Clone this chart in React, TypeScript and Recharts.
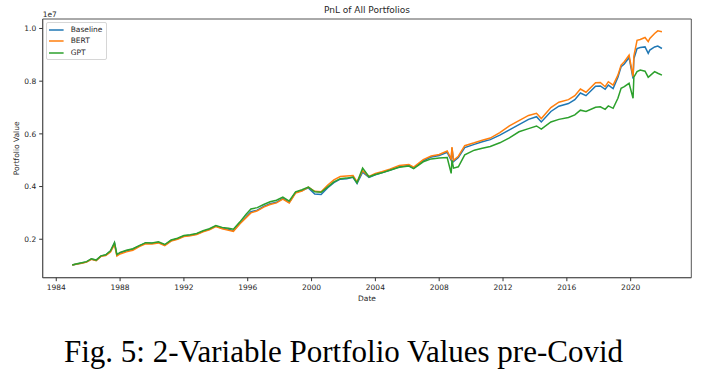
import React from 'react';
import { LineChart, Line, XAxis, YAxis, Legend, ReferenceArea } from 'recharts';

// Portfolio values in millions of dollars (axis shows units of 1e7)
const years = [
  1985.0, 1985.3, 1985.6, 1985.9, 1986.2, 1986.5, 1986.8, 1987.1, 1987.4, 1987.65, 1987.8,
  1988.0, 1988.4, 1988.8, 1989.2, 1989.6, 1990.0, 1990.4, 1990.8, 1991.2, 1991.6,
  1992.0, 1992.4, 1992.8, 1993.2, 1993.6, 1994.0, 1994.4, 1994.8, 1995.1, 1995.5, 1995.9,
  1996.2, 1996.6, 1997.0, 1997.4, 1997.8, 1998.2, 1998.6, 1999.0, 1999.4, 1999.8,
  2000.2, 2000.6, 2001.0, 2001.4, 2001.8, 2002.2, 2002.6, 2002.85, 2003.2, 2003.6,
  2004.0, 2004.4, 2004.9, 2005.5, 2006.1, 2006.4, 2007.0, 2007.5, 2008.0, 2008.5,
  2008.75, 2008.8, 2008.9, 2009.2, 2009.6, 2010.2, 2010.7, 2011.2, 2011.8, 2012.4,
  2013.0, 2013.6, 2014.1, 2014.4, 2015.0, 2015.5, 2016.1, 2016.5, 2016.85, 2017.2,
  2017.8, 2018.1, 2018.4, 2018.6, 2018.9, 2019.2, 2019.4, 2019.6, 2019.9, 2020.15,
  2020.2, 2020.4, 2020.6, 2020.9, 2021.1, 2021.2, 2021.5, 2021.7, 2021.96,
];

const baseline = [
  1.02, 1.06, 1.10, 1.14, 1.25, 1.20, 1.36, 1.40, 1.55, 1.86, 1.40,
  1.48, 1.56, 1.62, 1.75, 1.86, 1.85, 1.88, 1.78, 1.95, 2.02,
  2.12, 2.15, 2.20, 2.30, 2.38, 2.50, 2.42, 2.38, 2.32, 2.60, 2.85,
  3.05, 3.10, 3.25, 3.35, 3.40, 3.55, 3.40, 3.78, 3.85, 3.95,
  3.72, 3.70, 3.95, 4.15, 4.28, 4.30, 4.35, 4.12, 4.55, 4.35,
  4.45, 4.52, 4.62, 4.75, 4.80, 4.70, 4.98, 5.12, 5.18, 5.30,
  5.00, 5.45, 4.95, 5.10, 5.48, 5.60, 5.70, 5.78, 5.95, 6.15,
  6.35, 6.55, 6.65, 6.45, 6.85, 7.05, 7.15, 7.30, 7.55, 7.45,
  7.81, 7.82, 7.69, 7.85, 7.72, 8.15, 8.55, 8.65, 8.90, 8.10,
  8.85, 9.24, 9.28, 9.30, 9.06, 9.18, 9.30, 9.33, 9.24,
];

const bert = [
  1.02, 1.06, 1.09, 1.13, 1.24, 1.19, 1.35, 1.38, 1.52, 1.80, 1.36,
  1.44, 1.52, 1.58, 1.72, 1.83, 1.82, 1.86, 1.76, 1.93, 2.00,
  2.10, 2.13, 2.18, 2.28, 2.36, 2.48, 2.40, 2.34, 2.30, 2.58, 2.82,
  3.00, 3.08, 3.22, 3.32, 3.38, 3.52, 3.38, 3.75, 3.83, 3.98,
  3.82, 3.80, 4.05, 4.25, 4.38, 4.40, 4.42, 4.18, 4.60, 4.38,
  4.50, 4.56, 4.66, 4.80, 4.84, 4.74, 5.02, 5.16, 5.22, 5.35,
  5.05, 5.50, 5.00, 5.15, 5.55, 5.66, 5.76, 5.84, 6.05, 6.30,
  6.50, 6.70, 6.78, 6.58, 7.00, 7.20, 7.30, 7.45, 7.70, 7.58,
  7.94, 7.95, 7.79, 7.98, 7.85, 8.23, 8.61, 8.74, 8.99, 8.17,
  8.95, 9.55, 9.58, 9.66, 9.50, 9.62, 9.81, 9.91, 9.88,
];

const gpt = [
  1.02, 1.07, 1.11, 1.15, 1.26, 1.21, 1.37, 1.41, 1.56, 1.87, 1.42,
  1.50, 1.58, 1.64, 1.76, 1.87, 1.86, 1.90, 1.80, 1.97, 2.04,
  2.14, 2.17, 2.22, 2.32, 2.40, 2.52, 2.45, 2.42, 2.38, 2.65, 2.95,
  3.15, 3.20, 3.32, 3.42, 3.48, 3.60, 3.45, 3.80, 3.88, 3.98,
  3.80, 3.78, 3.98, 4.18, 4.30, 4.32, 4.36, 4.14, 4.70, 4.37,
  4.46, 4.52, 4.62, 4.73, 4.78, 4.68, 4.94, 5.05, 5.08, 5.10,
  4.50, 5.00, 4.70, 4.75, 5.20, 5.38, 5.45, 5.52, 5.66, 5.85,
  6.08, 6.20, 6.30, 6.18, 6.45, 6.55, 6.62, 6.72, 6.90, 6.85,
  7.01, 7.03, 6.93, 7.06, 6.97, 7.35, 7.73, 7.79, 7.92, 7.35,
  8.15, 8.36, 8.42, 8.38, 8.15, 8.20, 8.36, 8.30, 8.23,
];

const seriesNames = ['Baseline', 'BERT', 'GPT'];
const seriesColors = ['#1f77b4', '#ff7f0e', '#2ca02c'];
const xTicks = [1984, 1988, 1992, 1996, 2000, 2004, 2008, 2012, 2016, 2020];
const yTicks = [2, 4, 6, 8, 10];

const seriesValues = [baseline, bert, gpt];
const data = years.map((year, i) => {
  const row: Record<string, number> = { year };
  seriesNames.forEach((n, k) => {
    row[n] = seriesValues[k][i];
  });
  return row;
});

const FONT = 'DejaVu Sans';
const TXT = '#262626';
const FRAME = '#555';
const xDomain: [number, number] = [1983.15, 2023.8];
const yDomain: [number, number] = [0.54, 10.36];

const tickStyle = { fontSize: 7.5, fill: TXT, fontFamily: FONT };

const LegendBox = () => (
  <div
    style={{
      position: 'relative',
      width: 60.7,
      height: 38.3,
      boxSizing: 'border-box',
      border: '1px solid #d6d6d6',
      borderRadius: 2,
      background: 'rgba(255,255,255,0.8)',
      fontFamily: FONT,
      fontSize: 7.5,
      color: TXT,
    }}
  >
    {seriesNames.map((n, i) => (
      <div
        key={n}
        style={{
          position: 'absolute',
          left: 0,
          top: 1 + i * 11.8,
          height: 12,
          display: 'flex',
          alignItems: 'center',
          whiteSpace: 'nowrap',
        }}
      >
        <svg width={16.3} height={4} style={{ marginLeft: 1.7, display: 'block' }}>
          <line x1={0} y1={2} x2={14.6} y2={2} stroke={seriesColors[i]} strokeWidth={1.5} />
        </svg>
        <span style={{ marginLeft: 5.7, lineHeight: '12px' }}>{n}</span>
      </div>
    ))}
  </div>
);

export default function App() {
  return (
    <div style={{ position: 'absolute', left: 0, top: 0, width: 703, height: 376, background: '#fff' }}>
      <LineChart
        width={703}
        height={310}
        data={data}
        margin={{ top: 19, right: 11.7, bottom: 2.3, left: 12.7 }}
      >
        <XAxis
          dataKey="year"
          type="number"
          domain={xDomain}
          allowDataOverflow
          ticks={xTicks}
          interval={0}
          height={30}
          tickSize={3.5}
          tickMargin={3.5}
          tick={tickStyle}
          axisLine={{ stroke: FRAME }}
          tickLine={{ stroke: '#333' }}
          label={(p: any) => {
            const vb = p.viewBox || {};
            return (
              <text x={vb.x + vb.width / 2} y={vb.y + 23} textAnchor="middle" fontSize={7.5} fontFamily={FONT} fill={TXT}>
                Date
              </text>
            );
          }}
        />
        <YAxis
          type="number"
          domain={yDomain}
          allowDataOverflow
          ticks={yTicks}
          interval={0}
          width={30}
          tickSize={3.5}
          tickMargin={3}
          tick={tickStyle}
          tickFormatter={(v: number) => (v / 10).toFixed(1)}
          axisLine={{ stroke: FRAME }}
          tickLine={{ stroke: '#333' }}
          label={(p: any) => {
            const vb = p.viewBox || {};
            const cy = vb.y + vb.height / 2;
            return (
              <g>
                <text
                  x={18.7}
                  y={cy}
                  transform={`rotate(-90 18.7 ${cy})`}
                  textAnchor="middle"
                  fontSize={7.5}
                  fontFamily={FONT}
                  fill={TXT}
                >
                  Portfolio Value
                </text>
                <text x={vb.x + vb.width} y={vb.y - 2.3} textAnchor="start" fontSize={7.5} fontFamily={FONT} fill={TXT}>
                  1e7
                </text>
              </g>
            );
          }}
        />
        <ReferenceArea
          x1={xDomain[0]}
          x2={xDomain[1]}
          y1={yDomain[0]}
          y2={yDomain[1]}
          ifOverflow="visible"
          fill="none"
          fillOpacity={0}
          stroke={FRAME}
          strokeWidth={1}
          label={(p: any) => {
            const vb = p.viewBox || {};
            return (
              <text x={vb.x + vb.width / 2} y={vb.y - 5.7} textAnchor="middle" fontSize={9} fontFamily={FONT} fill={TXT}>
                PnL of All Portfolios
              </text>
            );
          }}
        />
        <Legend
          layout="horizontal"
          verticalAlign="middle"
          align="center"
          wrapperStyle={{ left: 46, top: 21.7, width: 'auto' }}
          content={<LegendBox />}
        />
        {seriesNames.map((n, i) => (
          <Line
            key={n}
            type="linear"
            dataKey={n}
            stroke={seriesColors[i]}
            strokeWidth={1.5}
            dot={false}
            isAnimationActive={false}
          />
        ))}
      </LineChart>
      <div
        style={{
          position: 'absolute',
          left: 0,
          top: 336,
          width: 687,
          textAlign: 'center',
          fontFamily: 'Liberation Serif',
          fontSize: 31,
          lineHeight: '31px',
          color: '#000',
          whiteSpace: 'nowrap',
        }}
      >
        Fig. 5: 2-Variable Portfolio Values pre-Covid
      </div>
    </div>
  );
}
